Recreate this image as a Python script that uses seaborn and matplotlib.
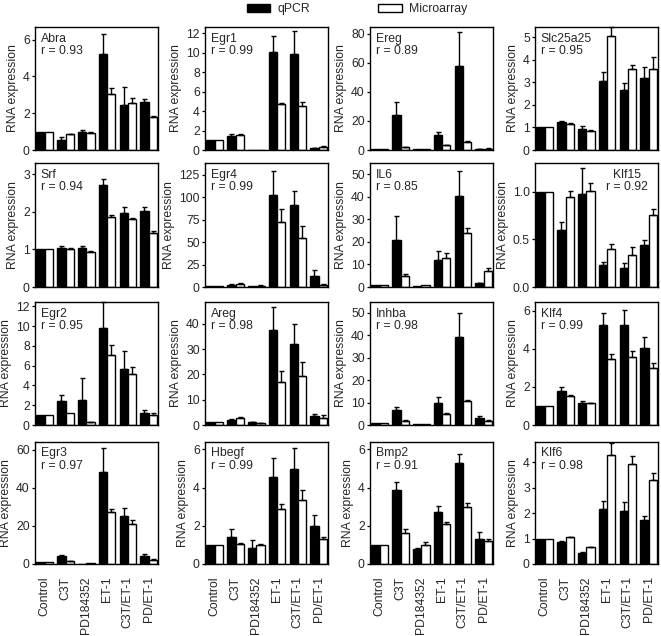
import numpy as np
import pandas as pd
import matplotlib
matplotlib.use("Agg")
import matplotlib.pyplot as plt
from matplotlib.patches import Patch
from matplotlib.ticker import FormatStrFormatter
import seaborn as sns

# ---------------- data ----------------
conditions = ["Control", "C3T", "PD184352", "ET-1", "C3T/ET-1", "PD/ET-1"]
methods = ["qPCR", "Microarray"]

genes = ["Abra", "Egr1", "Ereg", "Slc25a25",
         "Srf", "Egr4", "IL6", "Klf15",
         "Egr2", "Areg", "Inhba", "Klf4",
         "Egr3", "Hbegf", "Bmp2", "Klf6"]
r_values = ["0.93", "0.99", "0.89", "0.95",
            "0.94", "0.99", "0.85", "0.92",
            "0.95", "0.98", "0.98", "0.99",
            "0.97", "0.99", "0.91", "0.98"]

abra_qpcr = [1.0, 0.55, 1.0, 5.2, 2.45, 2.6]
abra_qpcr_err = [0, 0.14, 0.1, 1.1, 1.0, 0.18]
abra_micro = [1.0, 0.85, 0.95, 3.05, 2.55, 1.8]
abra_micro_err = [0, 0.03, 0.04, 0.3, 0.27, 0.04]

egr1_qpcr = [1.0, 1.4, 0.02, 10.1, 9.9, 0.2]
egr1_qpcr_err = [0, 0.25, 0, 1.6, 2.3, 0.05]
egr1_micro = [1.0, 1.5, 0.03, 4.75, 4.55, 0.3]
egr1_micro_err = [0, 0.1, 0, 0.1, 0.35, 0.1]

ereg_qpcr = [0.6, 24.0, 0.5, 10.5, 57.5, 0.8]
ereg_qpcr_err = [0, 9.2, 0, 1.7, 23.5, 0.2]
ereg_micro = [0.5, 2.0, 0.5, 3.3, 5.5, 1.0]
ereg_micro_err = [0, 0.2, 0, 0.4, 0.5, 0.1]

slc_qpcr = [1.0, 1.22, 0.95, 3.05, 2.65, 3.2]
slc_qpcr_err = [0, 0.08, 0.1, 0.4, 0.3, 0.48]
slc_micro = [1.0, 1.15, 0.85, 5.05, 3.6, 3.6]
slc_micro_err = [0, 0.04, 0.05, 0.38, 0.18, 0.52]

srf_qpcr = [1.0, 1.03, 1.04, 2.72, 1.98, 2.02]
srf_qpcr_err = [0, 0.06, 0.06, 0.15, 0.15, 0.12]
srf_micro = [1.0, 1.02, 0.92, 1.87, 1.8, 1.45]
srf_micro_err = [0, 0.03, 0.05, 0.04, 0.03, 0.03]

egr4_qpcr = [0.8, 2.5, 0.8, 102.0, 91.0, 12.0]
egr4_qpcr_err = [0, 0.5, 0, 27.0, 16.0, 7.0]
egr4_micro = [0.7, 3.0, 1.5, 72.0, 55.0, 2.0]
egr4_micro_err = [0, 1.0, 0.5, 15.0, 13.0, 1.0]

il6_qpcr = [1.0, 21.0, 0.3, 12.0, 40.3, 1.6]
il6_qpcr_err = [0, 10.3, 0, 4.0, 11.0, 0.2]
il6_micro = [1.0, 5.0, 0.8, 13.0, 24.0, 7.0]
il6_micro_err = [0, 0.8, 0, 2.2, 2.2, 1.6]

klf15_qpcr = [1.0, 0.6, 0.97, 0.23, 0.2, 0.44]
klf15_qpcr_err = [0, 0.08, 0.28, 0.03, 0.05, 0.05]
klf15_micro = [1.0, 0.94, 1.01, 0.4, 0.34, 0.76]
klf15_micro_err = [0, 0.07, 0.08, 0.05, 0.08, 0.06]

egr2_qpcr = [1.0, 2.43, 2.5, 9.8, 5.7, 1.2]
egr2_qpcr_err = [0, 0.6, 2.3, 2.6, 1.75, 0.33]
egr2_micro = [1.0, 1.25, 0.3, 7.05, 5.2, 1.0]
egr2_micro_err = [0, 0, 0.05, 1.0, 0.65, 0.2]

areg_qpcr = [1.0, 2.0, 1.0, 37.5, 32.0, 3.7]
areg_qpcr_err = [0, 0.3, 0.1, 9.0, 8.0, 0.5]
areg_micro = [1.0, 2.7, 0.7, 17.0, 19.5, 2.8]
areg_micro_err = [0, 0.5, 0.1, 4.4, 5.5, 1.1]

inhba_qpcr = [1.0, 6.5, 0.5, 10.0, 39.5, 3.2]
inhba_qpcr_err = [0, 1.7, 0, 2.3, 10.5, 0.6]
inhba_micro = [1.0, 2.0, 0.6, 5.1, 10.8, 2.0]
inhba_micro_err = [0, 0.2, 0, 0.2, 0.4, 0.2]

klf4_qpcr = [1.0, 1.8, 1.15, 5.25, 5.25, 4.05]
klf4_qpcr_err = [0, 0.22, 0.1, 0.65, 0.8, 0.6]
klf4_micro = [1.0, 1.55, 1.15, 3.45, 3.6, 3.0]
klf4_micro_err = [0, 0.05, 0.03, 0.3, 0.3, 0.27]

egr3_qpcr = [0.8, 4.0, 0.2, 48.5, 25.0, 4.0]
egr3_qpcr_err = [0, 0.5, 0, 12.6, 4.5, 1.0]
egr3_micro = [0.8, 1.6, 0.5, 27.3, 21.0, 2.3]
egr3_micro_err = [0, 0.2, 0, 1.5, 2.0, 0.5]

hbegf_qpcr = [1.0, 1.4, 0.85, 4.55, 4.95, 2.0]
hbegf_qpcr_err = [0, 0.45, 0.4, 1.0, 1.1, 0.58]
hbegf_micro = [1.0, 1.05, 1.0, 2.9, 3.35, 1.3]
hbegf_micro_err = [0, 0.04, 0.05, 0.25, 0.5, 0.13]

bmp2_qpcr = [1.0, 3.9, 0.8, 2.7, 5.3, 1.3]
bmp2_qpcr_err = [0, 0.4, 0.05, 0.35, 0.45, 0.4]
bmp2_micro = [1.0, 1.6, 1.0, 2.08, 3.0, 1.2]
bmp2_micro_err = [0, 0.22, 0.13, 0.1, 0.2, 0.1]

klf6_qpcr = [1.0, 0.85, 0.42, 2.15, 2.1, 1.75]
klf6_qpcr_err = [0, 0.05, 0.04, 0.33, 0.35, 0.15]
klf6_micro = [1.0, 1.05, 0.65, 4.3, 3.95, 3.3]
klf6_micro_err = [0, 0.02, 0.03, 0.45, 0.3, 0.3]

qpcr_values = [abra_qpcr, egr1_qpcr, ereg_qpcr, slc_qpcr,
               srf_qpcr, egr4_qpcr, il6_qpcr, klf15_qpcr,
               egr2_qpcr, areg_qpcr, inhba_qpcr, klf4_qpcr,
               egr3_qpcr, hbegf_qpcr, bmp2_qpcr, klf6_qpcr]
qpcr_errors = [abra_qpcr_err, egr1_qpcr_err, ereg_qpcr_err, slc_qpcr_err,
               srf_qpcr_err, egr4_qpcr_err, il6_qpcr_err, klf15_qpcr_err,
               egr2_qpcr_err, areg_qpcr_err, inhba_qpcr_err, klf4_qpcr_err,
               egr3_qpcr_err, hbegf_qpcr_err, bmp2_qpcr_err, klf6_qpcr_err]
micro_values = [abra_micro, egr1_micro, ereg_micro, slc_micro,
                srf_micro, egr4_micro, il6_micro, klf15_micro,
                egr2_micro, areg_micro, inhba_micro, klf4_micro,
                egr3_micro, hbegf_micro, bmp2_micro, klf6_micro]
micro_errors = [abra_micro_err, egr1_micro_err, ereg_micro_err, slc_micro_err,
                srf_micro_err, egr4_micro_err, il6_micro_err, klf15_micro_err,
                egr2_micro_err, areg_micro_err, inhba_micro_err, klf4_micro_err,
                egr3_micro_err, hbegf_micro_err, bmp2_micro_err, klf6_micro_err]

y_ticks = [[0, 2, 4, 6], [0, 2, 4, 6, 8, 10, 12], [0, 20, 40, 60, 80], [0, 1, 2, 3, 4, 5],
           [0, 1, 2, 3], [0, 25, 50, 75, 100, 125], [0, 10, 20, 30, 40, 50], [0.0, 0.5, 1.0],
           [0, 2, 4, 6, 8, 10, 12], [0, 10, 20, 30, 40], [0, 10, 20, 30, 40, 50], [0, 2, 4, 6],
           [0, 20, 40, 60], [0, 2, 4, 6], [0, 2, 4, 6], [0, 1, 2, 3, 4]]
y_max = [6.69, 12.62, 84.6, 5.45,
         3.3, 138, 55, 1.30,
         12.45, 48.6, 54.9, 6.47,
         64.2, 6.39, 6.39, 4.8]

# ---------------- style / layout ----------------
sns.set_theme(style="ticks")
plt.rcParams["font.family"] = ["Liberation Sans", "DejaVu Sans"]
FS = 8.8

W, H = 661, 636
fig = plt.figure(figsize=(W / 100, H / 100), dpi=100)

col_left = [35, 205, 370, 535]
col_width = 123
row_top = [27, 163, 302, 442]
row_bottom = [150, 287, 425, 564]

palette = {"qPCR": "black", "Microarray": "white"}

for i, gene in enumerate(genes):
    r, c = divmod(i, 4)
    left = col_left[c] / W
    bottom = 1 - row_bottom[r] / H
    height = (row_bottom[r] - row_top[r]) / H
    ax = fig.add_axes([left, bottom, col_width / W, height])

    df = pd.DataFrame({
        "Condition": conditions * 2,
        "Expression": list(qpcr_values[i]) + list(micro_values[i]),
        "Method": ["qPCR"] * 6 + ["Microarray"] * 6,
    })
    sns.barplot(data=df, x="Condition", y="Expression", hue="Method",
                order=conditions, hue_order=methods, palette=palette,
                edgecolor="black", linewidth=1.0, errorbar=None,
                width=0.8, gap=0, legend=False, ax=ax)

    for cont, errs in zip(ax.containers, [qpcr_errors[i], micro_errors[i]]):
        for bar, e in zip(cont, errs):
            if e <= 0:
                continue
            x = bar.get_x() + bar.get_width() / 2
            h = bar.get_height()
            eb = ax.errorbar([x], [h], yerr=[[0], [e]], fmt="none", ecolor="black",
                             elinewidth=1.0, capsize=1.8, capthick=1.0, zorder=1.5)
            for child in eb.get_children():
                child.set_clip_on(False)

    ax.set_xlim(-0.47, 5.45)
    ax.set_ylim(0, y_max[i])
    ax.set_yticks(y_ticks[i])
    if gene == "Klf15":
        ax.yaxis.set_major_formatter(FormatStrFormatter("%.1f"))
    ax.set_ylabel("RNA expression", fontsize=FS, labelpad=3)
    ax.set_xlabel("")
    for s in ax.spines.values():
        s.set_visible(True)
        s.set_linewidth(1.0)
        s.set_color("black")
    ax.tick_params(axis="y", length=2.5, width=0.9, pad=1.2, labelsize=FS, color="black")
    ax.tick_params(axis="x", length=0, pad=9, labelsize=FS)
    if r == 3:
        ax.set_xticks(range(6))
        ax.set_xticklabels(conditions, rotation=90, fontsize=FS)
    else:
        ax.set_xticklabels([])

    if gene == "Klf15":
        ax.text(0.92, 0.955, f"{gene}\nr = {r_values[i]}", transform=ax.transAxes,
                ha="right", va="top", ma="center", fontsize=FS, linespacing=1.05)
    else:
        ax.text(0.045, 0.955, f"{gene}\nr = {r_values[i]}", transform=ax.transAxes,
                ha="left", va="top", fontsize=FS, linespacing=1.05)

handles = [Patch(facecolor="black", edgecolor="black", linewidth=1.0),
           Patch(facecolor="white", edgecolor="black", linewidth=1.0)]
fig.legend(handles, methods, loc="center", bbox_to_anchor=(0.54, 1 - 9 / H),
           ncol=2, frameon=False, fontsize=FS, handlelength=1.9, handleheight=0.6,
           handletextpad=0.6, columnspacing=5.6, borderpad=0.1)

fig.savefig("out.png", dpi=100)
